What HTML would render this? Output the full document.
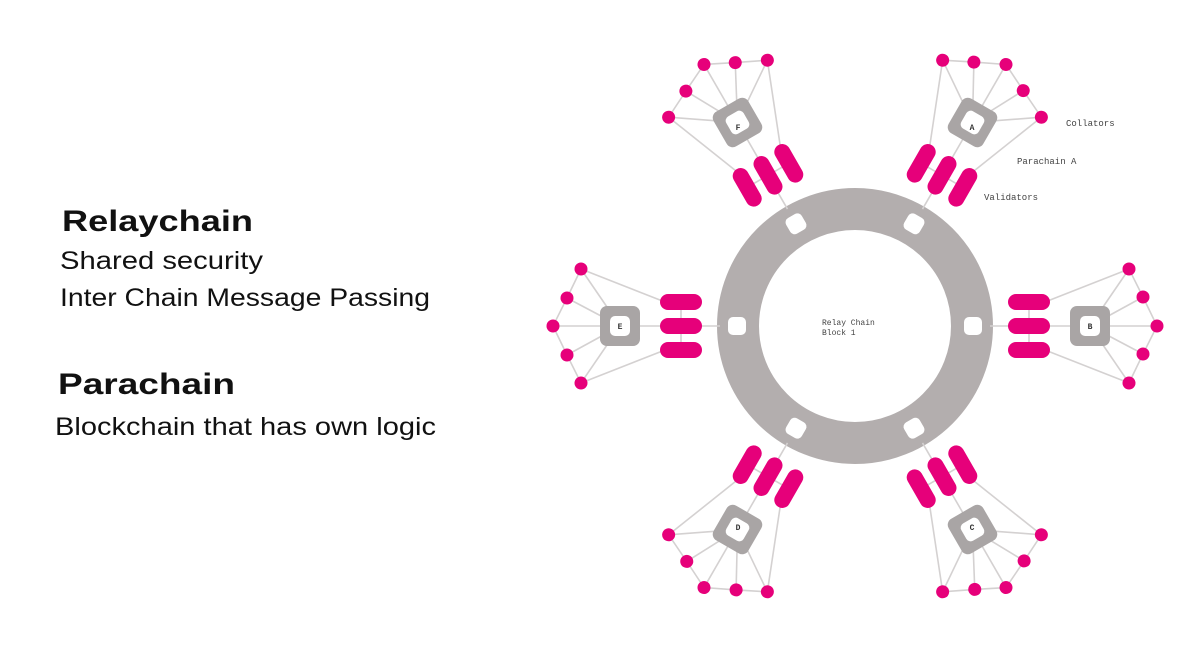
<!DOCTYPE html>
<html><head><meta charset="utf-8"><style>html,body{margin:0;padding:0;background:#fff;width:1194px;height:656px;overflow:hidden}</style></head>
<body>
<svg width="1194" height="656" viewBox="0 0 1194 656" xmlns="http://www.w3.org/2000/svg">
<defs>
<g id="arm">
  <!-- arm pointing left from center (0,0); E-arm geometry -->
  <g stroke="#d4d1d1" stroke-width="1.6" fill="none">
    <line x1="-274" y1="-57" x2="-235" y2="0"/>
    <line x1="-288" y1="-28" x2="-235" y2="0"/>
    <line x1="-302" y1="0" x2="-235" y2="0"/>
    <line x1="-288" y1="29" x2="-235" y2="0"/>
    <line x1="-274" y1="57" x2="-235" y2="0"/>
    <polyline points="-274,-57 -288,-28 -302,0 -288,29 -274,57"/>
    <line x1="-274" y1="-57" x2="-190" y2="-24"/>
    <line x1="-274" y1="57" x2="-190" y2="24"/>
    <line x1="-235" y1="0" x2="-180" y2="0"/>
    <line x1="-174" y1="-24" x2="-174" y2="24"/>
    <line x1="-160" y1="0" x2="-135" y2="0"/>
  </g>
  <rect x="-255" y="-20" width="40" height="40" rx="7" fill="#a9a5a5"/>
  <rect x="-245" y="-10" width="20" height="20" rx="5" fill="#fff"/>
  <g fill="#e6007a">
    <rect x="-195" y="-32" width="42" height="16" rx="8"/>
    <rect x="-195" y="-8" width="42" height="16" rx="8"/>
    <rect x="-195" y="16" width="42" height="16" rx="8"/>
    <circle cx="-274" cy="-57" r="6.5"/>
    <circle cx="-288" cy="-28" r="6.5"/>
    <circle cx="-302" cy="0" r="6.5"/>
    <circle cx="-288" cy="29" r="6.5"/>
    <circle cx="-274" cy="57" r="6.5"/>
  </g>
  <rect x="-127" y="-9" width="18" height="18" rx="5" fill="#fff"/>
</g>
</defs>
<g transform="translate(855,326)">
  <circle r="117" fill="none" stroke="#b3aeae" stroke-width="42"/>
  <use href="#arm"/>
  <use href="#arm" transform="rotate(60)"/>
  <use href="#arm" transform="rotate(120)"/>
  <use href="#arm" transform="rotate(180)"/>
  <use href="#arm" transform="rotate(240)"/>
  <use href="#arm" transform="rotate(300)"/>
</g>
<g font-family="Liberation Mono, monospace" font-size="8" fill="#333" font-weight="bold">
  <text x="620" y="329" text-anchor="middle">E</text>
  <text x="1090" y="329" text-anchor="middle">B</text>
  <text x="972" y="130" text-anchor="middle">A</text>
  <text x="738" y="130" text-anchor="middle">F</text>
  <text x="738" y="530" text-anchor="middle">D</text>
  <text x="972" y="530" text-anchor="middle">C</text>
</g>
<g font-family="Liberation Mono, monospace" font-size="9" fill="#444">
  <text x="1066" y="126">Collators</text>
  <text x="1017" y="164">Parachain A</text>
  <text x="984" y="200">Validators</text>
  <text x="822" y="325" font-size="8">Relay Chain</text>
  <text x="822" y="335" font-size="8">Block 1</text>
</g>
<g font-family="Liberation Sans, sans-serif" fill="#111">
  <text x="62" y="231" font-size="30" font-weight="bold" textLength="191" lengthAdjust="spacingAndGlyphs">Relaychain</text>
  <text x="60" y="269" font-size="25" textLength="203" lengthAdjust="spacingAndGlyphs">Shared security</text>
  <text x="60" y="306" font-size="25" textLength="370" lengthAdjust="spacingAndGlyphs">Inter Chain Message Passing</text>
  <text x="58" y="394" font-size="30" font-weight="bold" textLength="177" lengthAdjust="spacingAndGlyphs">Parachain</text>
  <text x="55" y="435" font-size="25" textLength="381" lengthAdjust="spacingAndGlyphs">Blockchain that has own logic</text>
</g>
</svg>
</body></html>
